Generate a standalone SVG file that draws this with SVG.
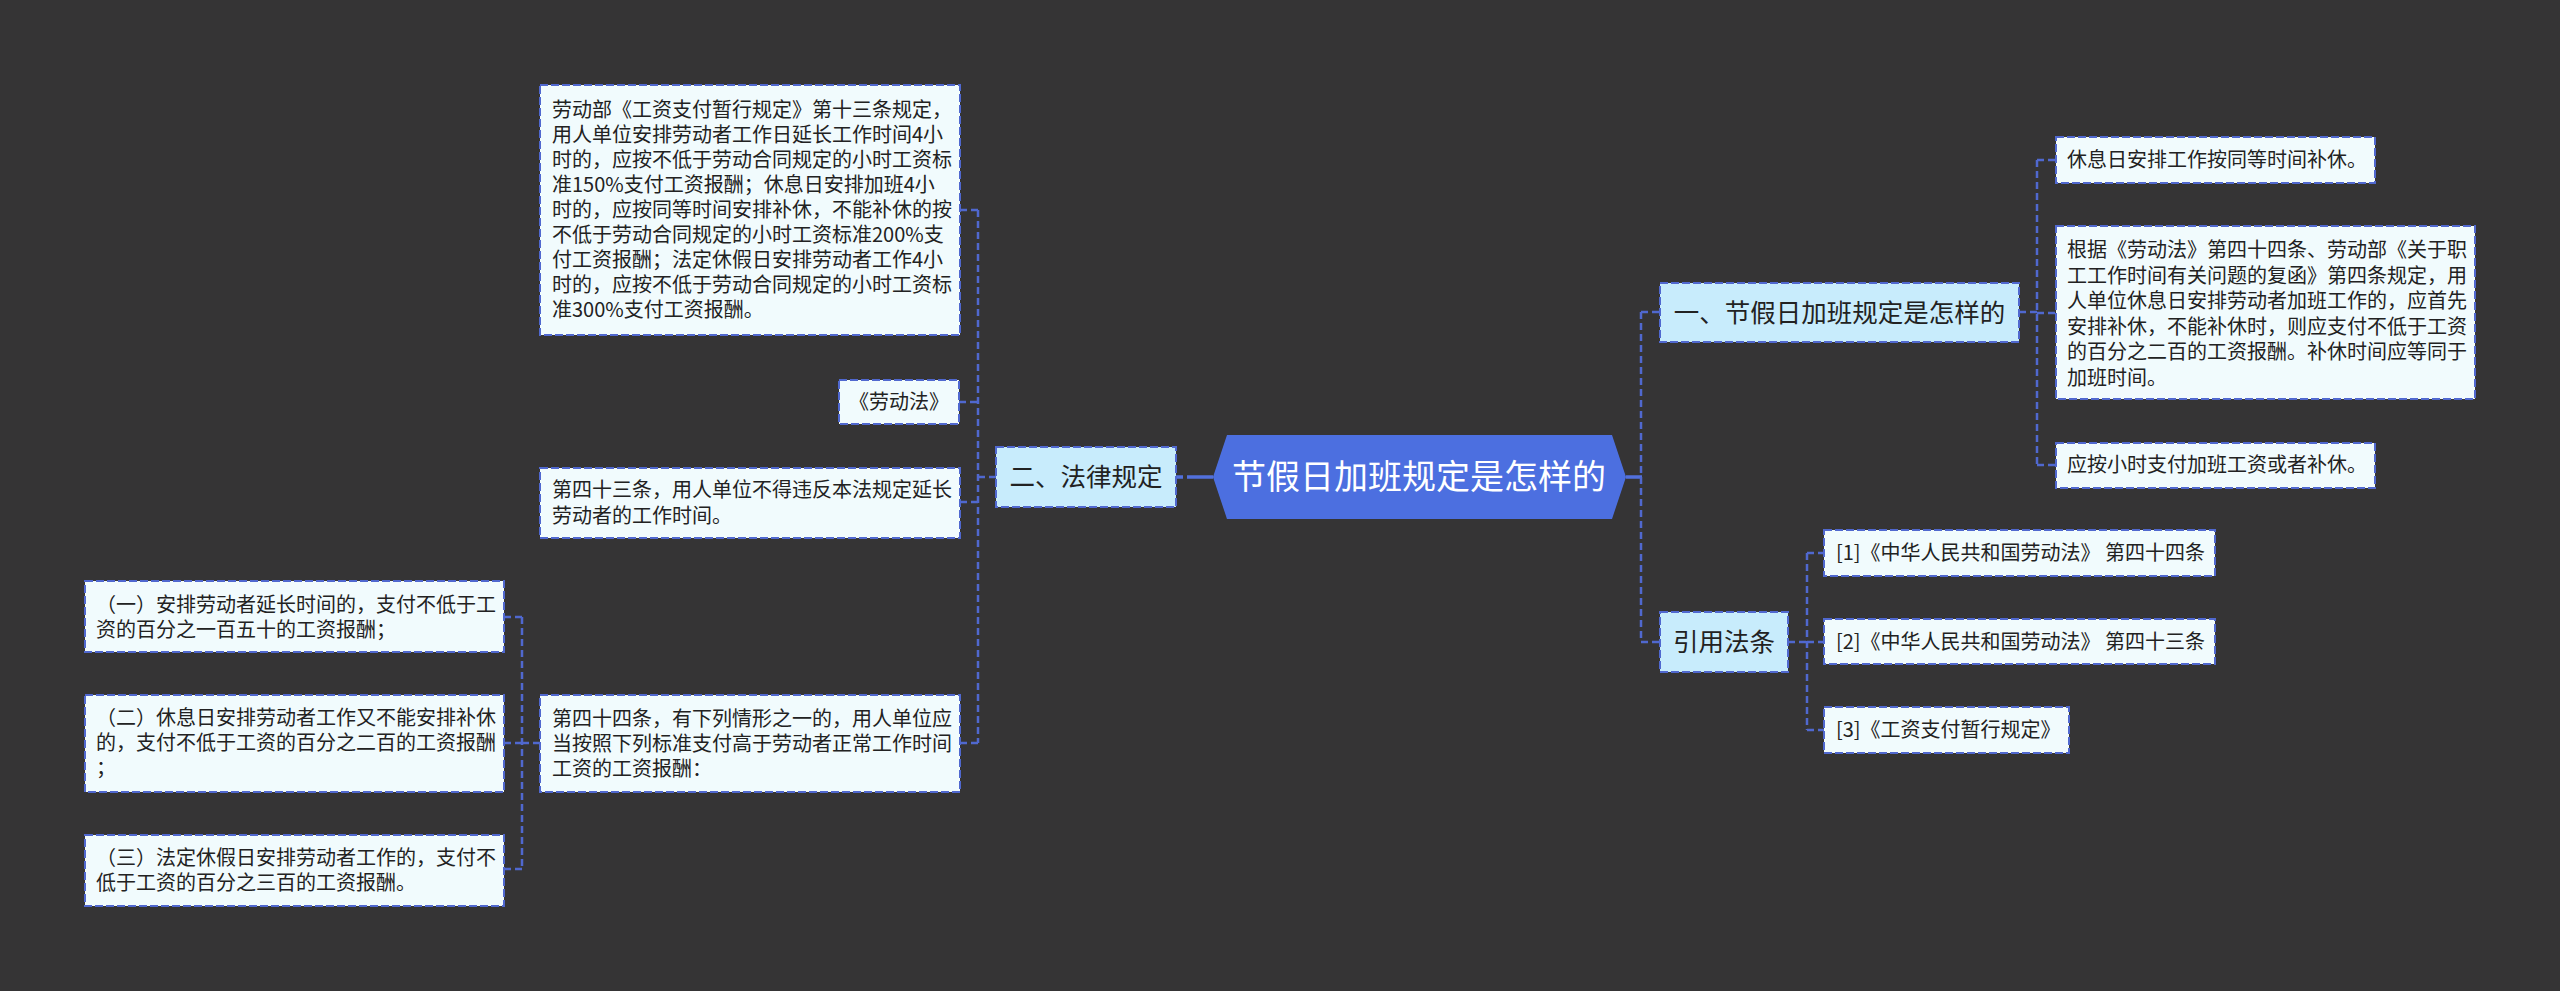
<svg xmlns="http://www.w3.org/2000/svg" width="2560" height="991" viewBox="0 0 2560 991">
<style>
.bg{fill:#353435}
.leaf{fill:#f1fbfd;stroke:#5068cf;stroke-width:2;stroke-dasharray:8,3}
.l1{fill:#c8ecfc;stroke:#5068cf;stroke-width:2;stroke-dasharray:8,3}
.root{fill:#4c6fe0}
.t{font-family:"Microsoft YaHei","Noto Sans CJK SC",sans-serif;font-size:20px;fill:#222}
.t1{font-family:"Microsoft YaHei","Noto Sans CJK SC",sans-serif;font-size:25.5px;fill:#222}
.tr{font-family:"Microsoft YaHei","Noto Sans CJK SC",sans-serif;font-size:34px;fill:#ffffff}
.c{fill:none;stroke:#5068cf;stroke-width:2.5;stroke-dasharray:7,4}
.cs{fill:none;stroke:#5270dc;stroke-width:3.5}
</style>
<rect class="bg" x="0" y="0" width="2560" height="991"/>
<g id="connectors">
<line class="cs" x1="1176" y1="477" x2="1213" y2="477" stroke-dasharray="7,4,26"/>
<line class="cs" x1="1626" y1="477" x2="1642" y2="477"/>
<path class="c" d="M996 477H978M978 210V743M960 210H978M959 402H978M960 502H978M960 743H978"/>
<path class="c" d="M540 743H522M522 617V869M504 617H522M504 743H522M504 869H522"/>
<path class="c" d="M1641 312V642M1641 312H1660M1641 642H1660"/>
<path class="c" d="M2019 312H2037M2037 160V465M2037 160H2056M2037 313H2056M2037 465H2056"/>
<path class="c" d="M1788 642H1807M1807 553V730M1807 553H1824M1807 642H1824M1807 730H1824"/>
</g>
<g id="root">
<polygon class="root" points="1213,477 1227,435 1612,435 1626,477 1612,519 1227,519"/>
<text class="tr" x="1419" y="489" text-anchor="middle">节假日加班规定是怎样的</text>
</g>
<g id="n-falv">
<rect class="l1" x="996" y="447" width="180" height="60"/>
<text class="t1" x="1086" y="486" text-anchor="middle">二、法律规定</text>
</g>
<g id="n-laodongbu">
<rect class="leaf" x="540" y="85" width="420" height="250"/>
<text class="t"><tspan x="552" y="117">劳动部《工资支付暂行规定》第十三条规定，</tspan><tspan x="552" y="142">用人单位安排劳动者工作日延长工作时间4小</tspan><tspan x="552" y="167">时的，应按不低于劳动合同规定的小时工资标</tspan><tspan x="552" y="192">准150%支付工资报酬；休息日安排加班4小</tspan><tspan x="552" y="217">时的，应按同等时间安排补休，不能补休的按</tspan><tspan x="552" y="242">不低于劳动合同规定的小时工资标准200%支</tspan><tspan x="552" y="267">付工资报酬；法定休假日安排劳动者工作4小</tspan><tspan x="552" y="292">时的，应按不低于劳动合同规定的小时工资标</tspan><tspan x="552" y="317">准300%支付工资报酬。</tspan></text>
</g>
<g id="n-laodongfa">
<rect class="leaf" x="839" y="380" width="120" height="44"/>
<text class="t" x="899" y="409" text-anchor="middle">《劳动法》</text>
</g>
<g id="n-43">
<rect class="leaf" x="540" y="468" width="420" height="70"/>
<text class="t"><tspan x="552" y="497">第四十三条，用人单位不得违反本法规定延长</tspan><tspan x="552" y="523">劳动者的工作时间。</tspan></text>
</g>
<g id="n-44">
<rect class="leaf" x="540" y="695" width="420" height="97"/>
<text class="t"><tspan x="552" y="726">第四十四条，有下列情形之一的，用人单位应</tspan><tspan x="552" y="751">当按照下列标准支付高于劳动者正常工作时间</tspan><tspan x="552" y="776">工资的工资报酬：</tspan></text>
</g>
<g id="n-44-1">
<rect class="leaf" x="85" y="581" width="419" height="71"/>
<text class="t"><tspan x="96" y="612">（一）安排劳动者延长时间的，支付不低于工</tspan><tspan x="96" y="637">资的百分之一百五十的工资报酬；</tspan></text>
</g>
<g id="n-44-2">
<rect class="leaf" x="85" y="695" width="419" height="97"/>
<text class="t"><tspan x="96" y="725">（二）休息日安排劳动者工作又不能安排补休</tspan><tspan x="96" y="750">的，支付不低于工资的百分之二百的工资报酬</tspan><tspan x="96" y="775">；</tspan></text>
</g>
<g id="n-44-3">
<rect class="leaf" x="85" y="835" width="419" height="71"/>
<text class="t"><tspan x="96" y="865">（三）法定休假日安排劳动者工作的，支付不</tspan><tspan x="96" y="890">低于工资的百分之三百的工资报酬。</tspan></text>
</g>
<g id="n-jiejia">
<rect class="l1" x="1660" y="283" width="359" height="59"/>
<text class="t1" x="1839.5" y="322" text-anchor="middle">一、节假日加班规定是怎样的</text>
</g>
<g id="n-buxiu">
<rect class="leaf" x="2056" y="137" width="319" height="46"/>
<text class="t" x="2067" y="167">休息日安排工作按同等时间补休。</text>
</g>
<g id="n-genju">
<rect class="leaf" x="2056" y="226" width="419" height="173"/>
<text class="t"><tspan x="2067" y="257">根据《劳动法》第四十四条、劳动部《关于职</tspan><tspan x="2067" y="283">工工作时间有关问题的复函》第四条规定，用</tspan><tspan x="2067" y="308">人单位休息日安排劳动者加班工作的，应首先</tspan><tspan x="2067" y="334">安排补休，不能补休时，则应支付不低于工资</tspan><tspan x="2067" y="359">的百分之二百的工资报酬。补休时间应等同于</tspan><tspan x="2067" y="385">加班时间。</tspan></text>
</g>
<g id="n-xiaoshi">
<rect class="leaf" x="2056" y="443" width="319" height="45"/>
<text class="t" x="2067" y="472">应按小时支付加班工资或者补休。</text>
</g>
<g id="n-yinyong">
<rect class="l1" x="1660" y="612" width="128" height="60"/>
<text class="t1" x="1724" y="651" text-anchor="middle">引用法条</text>
</g>
<g id="n-ref1">
<rect class="leaf" x="1824" y="530" width="391" height="46"/>
<text class="t" x="1836" y="560">[1]《中华人民共和国劳动法》 第四十四条</text>
</g>
<g id="n-ref2">
<rect class="leaf" x="1824" y="619" width="391" height="45"/>
<text class="t" x="1836" y="649">[2]《中华人民共和国劳动法》 第四十三条</text>
</g>
<g id="n-ref3">
<rect class="leaf" x="1824" y="707" width="245" height="46"/>
<text class="t" x="1836" y="737">[3]《工资支付暂行规定》</text>
</g>
</svg>
